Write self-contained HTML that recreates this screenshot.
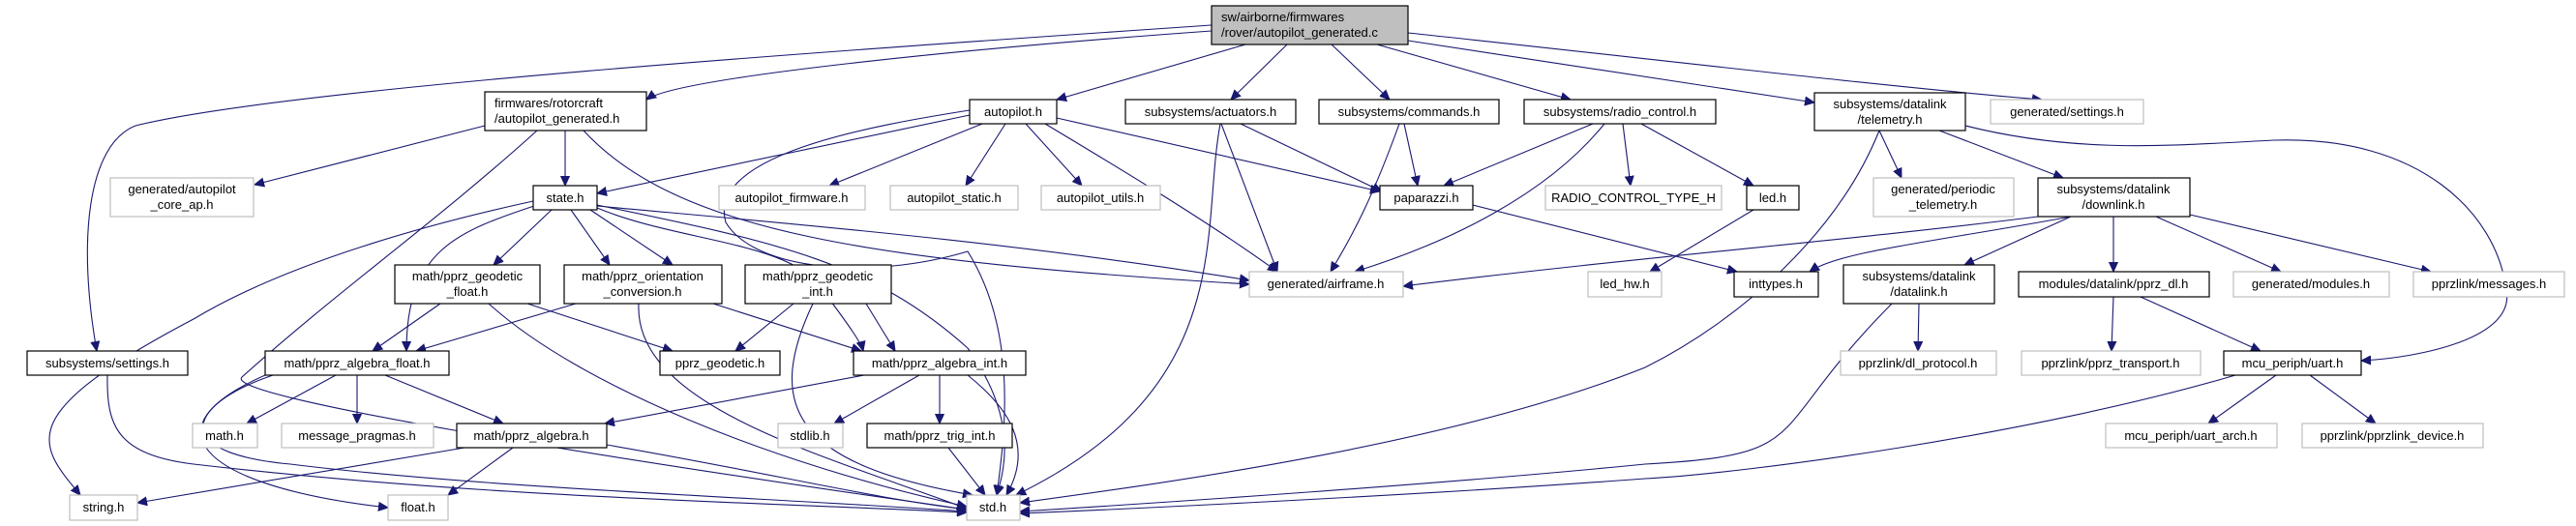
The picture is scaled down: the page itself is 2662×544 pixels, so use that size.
<!DOCTYPE html>
<html><head><meta charset="utf-8"><style>
html,body{margin:0;padding:0;background:#fff;}
svg{display:block;}
text{font-family:"Liberation Sans",sans-serif;font-size:13px;fill:#000;}
.n{fill:#fff;stroke:#000;stroke-width:1.2;}
.g{fill:#fff;stroke:#bfbfbf;stroke-width:1.2;}
.e{fill:none;stroke:#191970;stroke-width:1.1;}
</style></head><body>
<svg width="2662" height="544" viewBox="0 0 2662 544" xmlns="http://www.w3.org/2000/svg">
<defs><marker id="a" viewBox="0 0 10 10" refX="10" refY="5" markerWidth="10" markerHeight="10" markerUnits="userSpaceOnUse" orient="auto"><path d="M0,0.5 L10,5 L0,9.5 z" fill="#191970" stroke="#191970"/></marker></defs>
<g class="e" marker-end="url(#a)">
<!-- root -->
<path d="M1252,32 C1000,50 700,80 668,103"/>
<path d="M1252,26 C900,50 300,90 140,130 C90,150 80,250 100,363"/>
<path d="M1287,46 L1092,103"/>
<path d="M1330,46 L1272,103"/>
<path d="M1376,46 L1436,103"/>
<path d="M1423,46 L1623,103"/>
<path d="M1455,42 L1875,106"/>
<path d="M1455,34 C1700,60 1950,90 2110,103"/>
<!-- firmwares -->
<path d="M501,130 L263,191"/>
<path d="M584,135 L584,192"/>
<path d="M555,135 C450,230 350,300 250,390 C230,410 600,470 999,527"/>
<path d="M603,135 C700,240 900,270 1291,294"/>
<!-- autopilot.h -->
<path d="M1002,119 L617,200"/>
<path d="M1015,128 L857,192"/>
<path d="M1039,128 L998,192"/>
<path d="M1060,128 L1118,192"/>
<path d="M1092,122 L1426,198"/>
<path d="M1080,128 C1150,170 1250,230 1320,281"/>
<path d="M1002,114 C900,130 730,160 750,230 C780,280 900,290 1000,260 C1050,340 1040,440 1030,512"/>
<!-- state -->
<path d="M551,208 C450,230 300,270 200,330 C10,430 40,460 83,512"/>
<path d="M555,212 C470,240 420,260 420,363"/>
<path d="M570,217 L510,274"/>
<path d="M590,217 L630,274"/>
<path d="M610,217 L695,274"/>
<path d="M617,215 C700,250 820,250 850,300 C880,340 890,355 892,363"/>
<path d="M617,213 C800,230 1050,250 1291,290"/>
<path d="M617,212 C800,250 900,270 1000,360 C1050,430 1040,480 1030,512"/>
<!-- geodetic float -->
<path d="M455,314 L385,363"/>
<path d="M545,314 L695,363"/>
<path d="M505,314 C600,400 800,480 999,524"/>
<!-- orientation -->
<path d="M595,314 L430,363"/>
<path d="M737,314 L890,363"/>
<path d="M660,314 C655,420 850,470 999,526"/>
<!-- geodetic int -->
<path d="M820,314 L760,363"/>
<path d="M895,314 L925,363"/>
<path d="M840,314 C790,420 820,480 1005,512"/>
<!-- algebra float -->
<path d="M347,388 L255,438"/>
<path d="M369,388 L369,438"/>
<path d="M398,388 L520,438"/>
<path d="M282,388 C160,430 180,500 401,525"/>
<path d="M274,388 C180,430 190,470 300,480 C500,505 800,515 999,529"/>
<!-- algebra int -->
<path d="M893,388 L625,438"/>
<path d="M950,388 L862,438"/>
<path d="M971,388 L971,438"/>
<path d="M1000,388 C1040,420 1070,460 1040,512"/>
<!-- pprz_algebra -->
<path d="M480,463 L142,520"/>
<path d="M530,463 L463,512"/>
<path d="M627,460 C800,490 900,515 999,527"/>
<!-- trig -->
<path d="M980,463 L1018,512"/>
<!-- ss settings -->
<path d="M111,388 C110,440 120,470 200,480 C500,515 800,520 999,530"/>
<!-- actuators -->
<path d="M1261,128 C1240,240 1280,400 1050,512"/>
<path d="M1262,128 L1320,281"/>
<path d="M1282,128 L1428,198"/>
<!-- commands -->
<path d="M1451,128 L1465,192"/>
<path d="M1446,128 C1420,200 1400,240 1375,281"/>
<!-- radio -->
<path d="M1646,128 L1492,192"/>
<path d="M1658,128 C1600,200 1500,250 1400,281"/>
<path d="M1677,128 L1685,192"/>
<path d="M1696,128 L1812,192"/>
<!-- paparazzi, led -->
<path d="M1522,212 L1795,281"/>
<path d="M1812,217 L1705,281"/>
<!-- telemetry -->
<path d="M1942,135 L1965,184"/>
<path d="M2004,135 L2132,184"/>
<path d="M1942,135 C1900,240 1800,330 1700,380 C1500,460 1200,500 1054,520"/>
<path d="M2031,130 C2150,160 2250,150 2350,145 C2500,140 2580,220 2590,300 C2600,350 2500,370 2440,373"/>
<!-- downlink -->
<path d="M2106,224 C1900,250 1700,265 1450,296"/>
<path d="M2140,224 C2000,250 1900,260 1870,281"/>
<path d="M2140,224 L2030,274"/>
<path d="M2184,224 L2184,281"/>
<path d="M2228,224 L2357,281"/>
<path d="M2263,222 L2512,281"/>
<!-- datalink -->
<path d="M1983,314 L1982,363"/>
<path d="M1955,314 C1820,450 1880,470 1700,480 C1500,500 1200,520 1054,529"/>
<!-- pprz_dl -->
<path d="M2184,307 L2182,363"/>
<path d="M2212,307 L2336,363"/>
<!-- uart -->
<path d="M2310,388 C2100,450 1800,490 1700,495 C1500,510 1200,525 1054,531"/>
<path d="M2352,388 L2282,438"/>
<path d="M2387,388 L2455,438"/>
</g>
<!-- nodes -->
<rect x="1252" y="6" width="203" height="40" fill="#bfbfbf" stroke="#000" stroke-width="1.2"/>
<text x="1262" y="22">sw/airborne/firmwares</text><text x="1262" y="38">/rover/autopilot_generated.c</text>
<rect class="n" x="501" y="95" width="167" height="40"/><text x="511" y="111">firmwares/rotorcraft</text><text x="511" y="127">/autopilot_generated.h</text>
<g text-anchor="middle">
<rect class="n" x="1002" y="103" width="90" height="25"/><text x="1047" y="120">autopilot.h</text>
<rect class="n" x="1163" y="103" width="176" height="25"/><text x="1251" y="120">subsystems/actuators.h</text>
<rect class="n" x="1363" y="103" width="186" height="25"/><text x="1456" y="120">subsystems/commands.h</text>
<rect class="n" x="1575" y="103" width="198" height="25"/><text x="1674" y="120">subsystems/radio_control.h</text>
<rect class="n" x="1875" y="96" width="156" height="39"/><text x="1953" y="112">subsystems/datalink</text><text x="1953" y="128">/telemetry.h</text>
<rect class="g" x="2057" y="103" width="158" height="25"/><text x="2136" y="120">generated/settings.h</text>
<rect class="g" x="114" y="184" width="148" height="40"/><text x="188" y="200">generated/autopilot</text><text x="188" y="216">_core_ap.h</text>
<rect class="n" x="551" y="192" width="66" height="25"/><text x="584" y="209">state.h</text>
<rect class="g" x="743" y="192" width="151" height="25"/><text x="818" y="209">autopilot_firmware.h</text>
<rect class="g" x="920" y="192" width="132" height="25"/><text x="986" y="209">autopilot_static.h</text>
<rect class="g" x="1076" y="192" width="123" height="25"/><text x="1137" y="209">autopilot_utils.h</text>
<rect class="n" x="1426" y="192" width="96" height="25"/><text x="1474" y="209">paparazzi.h</text>
<rect class="g" x="1597" y="192" width="182" height="25"/><text x="1688" y="209">RADIO_CONTROL_TYPE_H</text>
<rect class="n" x="1805" y="192" width="54" height="25"/><text x="1832" y="209">led.h</text>
<rect class="g" x="1936" y="184" width="145" height="40"/><text x="2008" y="200">generated/periodic</text><text x="2008" y="216">_telemetry.h</text>
<rect class="n" x="2106" y="184" width="157" height="40"/><text x="2184" y="200">subsystems/datalink</text><text x="2184" y="216">/downlink.h</text>
<rect class="n" x="408" y="274" width="150" height="40"/><text x="483" y="290">math/pprz_geodetic</text><text x="483" y="306">_float.h</text>
<rect class="n" x="583" y="274" width="163" height="40"/><text x="664" y="290">math/pprz_orientation</text><text x="664" y="306">_conversion.h</text>
<rect class="n" x="770" y="274" width="151" height="40"/><text x="845" y="290">math/pprz_geodetic</text><text x="845" y="306">_int.h</text>
<rect class="g" x="1291" y="281" width="159" height="26"/><text x="1370" y="298">generated/airframe.h</text>
<rect class="g" x="1641" y="281" width="76" height="26"/><text x="1679" y="298">led_hw.h</text>
<rect class="n" x="1792" y="281" width="87" height="26"/><text x="1835" y="298">inttypes.h</text>
<rect class="n" x="1905" y="274" width="156" height="40"/><text x="1983" y="290">subsystems/datalink</text><text x="1983" y="306">/datalink.h</text>
<rect class="n" x="2086" y="281" width="197" height="26"/><text x="2184" y="298">modules/datalink/pprz_dl.h</text>
<rect class="g" x="2308" y="281" width="161" height="26"/><text x="2388" y="298">generated/modules.h</text>
<rect class="g" x="2494" y="281" width="156" height="26"/><text x="2572" y="298">pprzlink/messages.h</text>
<rect class="n" x="28" y="363" width="166" height="25"/><text x="111" y="380">subsystems/settings.h</text>
<rect class="n" x="274" y="363" width="190" height="25"/><text x="369" y="380">math/pprz_algebra_float.h</text>
<rect class="n" x="682" y="363" width="124" height="25"/><text x="744" y="380">pprz_geodetic.h</text>
<rect class="n" x="882" y="363" width="178" height="25"/><text x="971" y="380">math/pprz_algebra_int.h</text>
<rect class="g" x="1902" y="363" width="161" height="25"/><text x="1982" y="380">pprzlink/dl_protocol.h</text>
<rect class="g" x="2089" y="363" width="185" height="25"/><text x="2181" y="380">pprzlink/pprz_transport.h</text>
<rect class="n" x="2298" y="363" width="142" height="25"/><text x="2369" y="380">mcu_periph/uart.h</text>
<rect class="g" x="199" y="438" width="67" height="25"/><text x="232" y="455">math.h</text>
<rect class="g" x="291" y="438" width="157" height="25"/><text x="369" y="455">message_pragmas.h</text>
<rect class="n" x="472" y="438" width="155" height="25"/><text x="549" y="455">math/pprz_algebra.h</text>
<rect class="g" x="804" y="438" width="67" height="25"/><text x="837" y="455">stdlib.h</text>
<rect class="n" x="896" y="438" width="150" height="25"/><text x="971" y="455">math/pprz_trig_int.h</text>
<rect class="g" x="2176" y="438" width="177" height="25"/><text x="2264" y="455">mcu_periph/uart_arch.h</text>
<rect class="g" x="2379" y="438" width="187" height="25"/><text x="2472" y="455">pprzlink/pprzlink_device.h</text>
<rect class="g" x="72" y="512" width="70" height="26"/><text x="107" y="529">string.h</text>
<rect class="g" x="401" y="512" width="62" height="26"/><text x="432" y="529">float.h</text>
<rect class="g" x="999" y="512" width="55" height="26"/><text x="1026" y="529">std.h</text>
</g>
</svg>
</body></html>
